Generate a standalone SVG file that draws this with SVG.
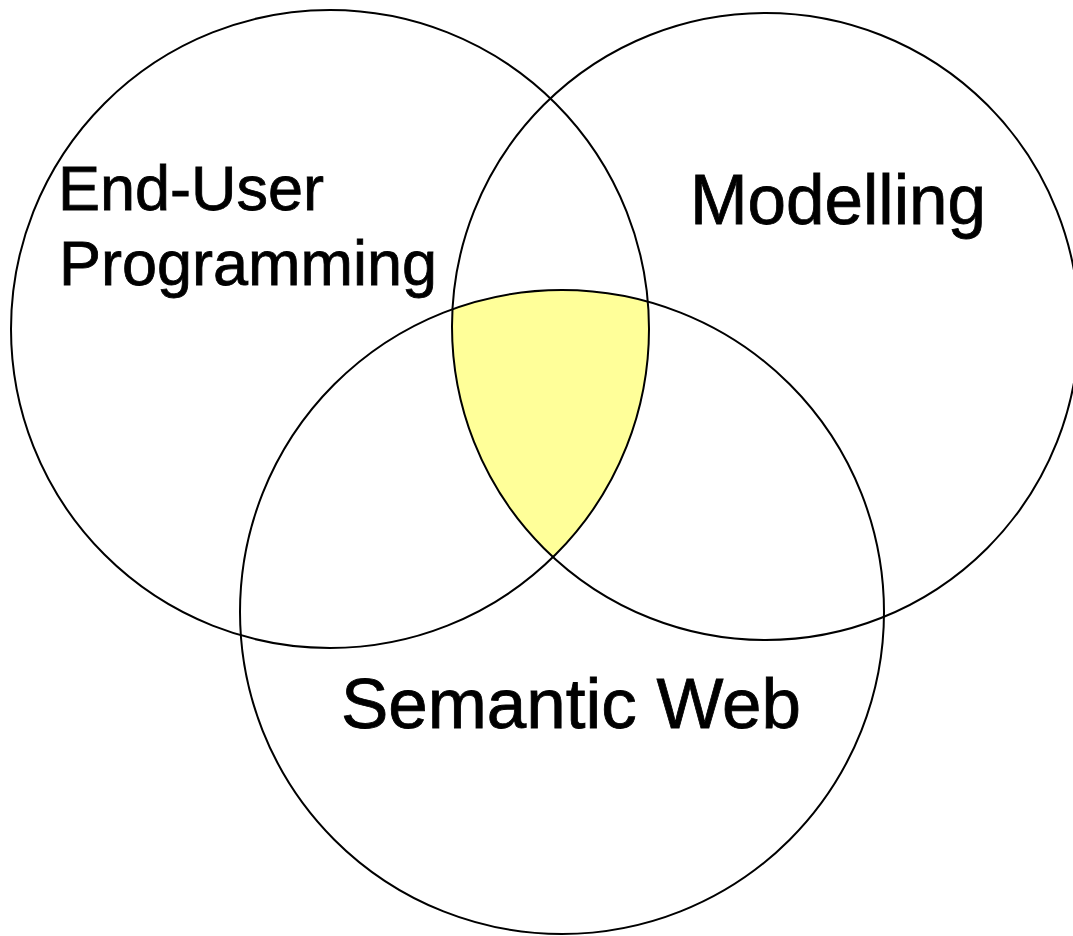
<svg xmlns="http://www.w3.org/2000/svg" width="1073" height="936" viewBox="0 0 1073 936">
<style>
.c{fill:none;stroke:#000;stroke-width:2}
.t{font-family:"Liberation Sans",Arial,sans-serif;fill:#000;stroke:#000;stroke-width:0.8}
</style>
<defs>
<clipPath id="clip1"><circle cx="330" cy="329" r="319"/></clipPath>
<clipPath id="clip2"><circle cx="765.5" cy="326.5" r="313.5"/></clipPath>
</defs>
<rect width="1073" height="936" fill="#fff"/>
<g id="center-overlap" clip-path="url(#clip1)">
<g clip-path="url(#clip2)">
<circle cx="562" cy="612" r="322" fill="#FFFF99"/>
</g>
</g>
<g id="end-user-programming">
<circle class="c" cx="330" cy="329" r="319"/>
<text class="t" x="58" y="210" font-size="63">End-User</text>
<text class="t" x="59" y="285" font-size="63">Programming</text>
</g>
<g id="modelling">
<circle class="c" cx="765.5" cy="326.5" r="313.5"/>
<text class="t" x="690" y="224" font-size="70" textLength="296" lengthAdjust="spacingAndGlyphs">Modelling</text>
</g>
<g id="semantic-web">
<circle class="c" cx="562" cy="612" r="322"/>
<text class="t" x="341" y="728" font-size="70" textLength="460" lengthAdjust="spacingAndGlyphs">Semantic Web</text>
</g>
</svg>
